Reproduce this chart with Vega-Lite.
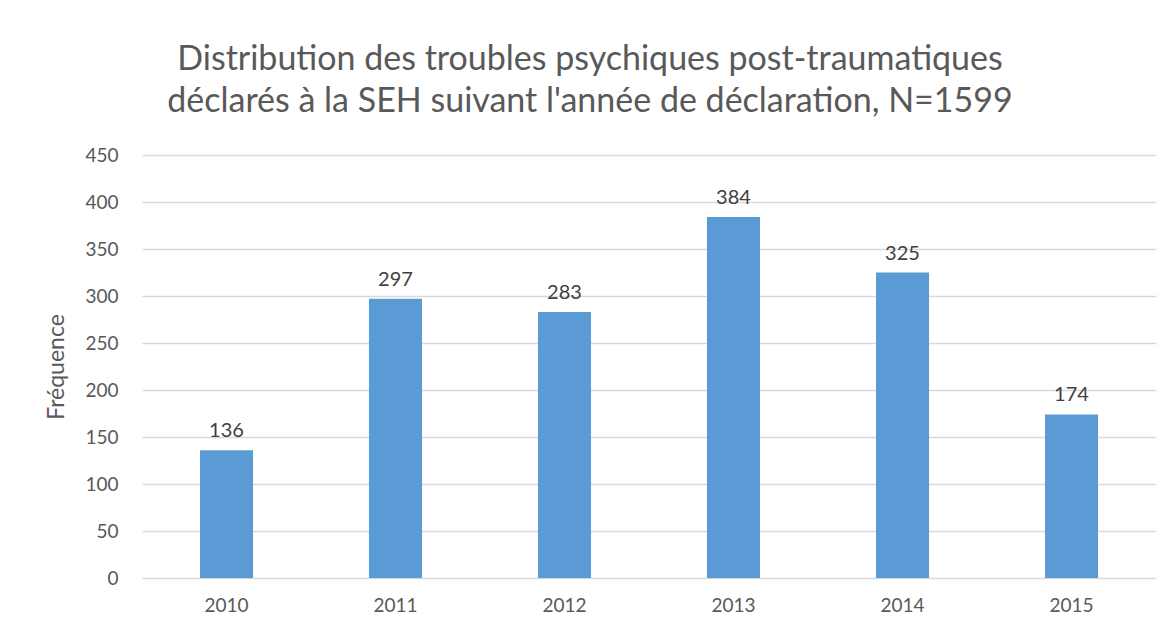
{
  "$schema": "https://vega.github.io/schema/vega-lite/v6.json",
  "width": 1014,
  "height": 423,
  "autosize": "none",
  "padding": {"left": 142, "top": 155, "right": 17, "bottom": 53},
  "background": "white",
  "title": {
    "text": ["Distribution des troubles psychiques post-traumatiques", "déclarés à la SEH suivant l'année de déclaration, N=1599"],
    "font": "Lato",
    "fontSize": 34,
    "fontWeight": "normal",
    "color": "#595959",
    "anchor": "middle",
    "frame": "group",
    "dx": -59,
    "offset": 27,
    "lineHeight": 42
  },
  "data": {
    "values": [
      {"year": "2010", "freq": 136},
      {"year": "2011", "freq": 297},
      {"year": "2012", "freq": 283},
      {"year": "2013", "freq": 384},
      {"year": "2014", "freq": 325},
      {"year": "2015", "freq": 174}
    ]
  },
  "encoding": {
    "x": {
      "field": "year",
      "type": "nominal",
      "scale": {"paddingInner": 0.686, "paddingOuter": 0.343},
      "axis": {
        "title": null,
        "labelAngle": 0,
        "labelFont": "Lato",
        "labelFontSize": 19,
        "labelColor": "#595959",
        "labelPadding": 18,
        "ticks": false,
        "domain": false,
        "grid": false
      }
    },
    "y": {
      "field": "freq",
      "type": "quantitative",
      "scale": {"domain": [0, 450]},
      "axis": {
        "values": [0, 50, 100, 150, 200, 250, 300, 350, 400, 450],
        "title": "Fréquence",
        "titleFont": "Lato",
        "titleFontSize": 23,
        "titleFontWeight": "normal",
        "titleColor": "#595959",
        "titlePadding": 16,
        "labelFont": "Lato",
        "labelFontSize": 19,
        "labelColor": "#595959",
        "labelPadding": 24,
        "ticks": false,
        "domain": false,
        "grid": true,
        "gridColor": "#D9D9D9",
        "gridWidth": 1.3
      }
    }
  },
  "layer": [
    {"mark": {"type": "bar", "color": "#5B9BD5"}},
    {
      "mark": {"type": "text", "baseline": "bottom", "dy": -9, "font": "Lato", "fontSize": 20, "color": "#404040"},
      "encoding": {"text": {"field": "freq", "type": "quantitative"}}
    }
  ],
  "config": {"view": {"stroke": null}}
}
